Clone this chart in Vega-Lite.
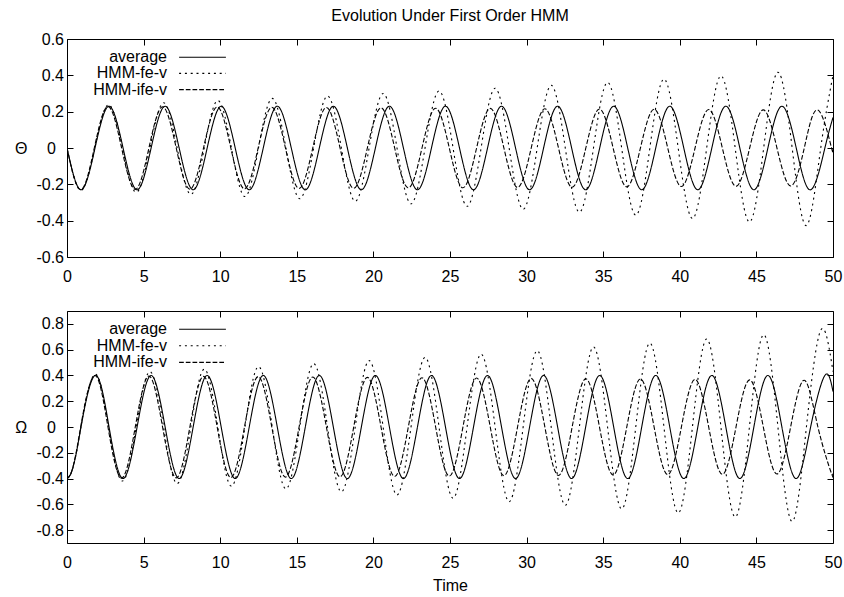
{
  "$schema": "https://vega.github.io/schema/vega-lite/v6.json",
  "background": "white",
  "padding": {"left": 14, "top": 8, "right": 5, "bottom": 2},
  "title": {"text": "Evolution Under First Order HMM", "anchor": "middle", "frame": "group", "offset": 6.3},
  "config": {
    "font": "Liberation Sans",
    "view": {"stroke": "black", "strokeWidth": 1},
    "axis": {"labelFont": "Liberation Sans", "labelFontSize": 16, "labelColor": "black", "titleFont": "Liberation Sans", "titleFontSize": 16, "titleFontWeight": "normal", "titleColor": "black", "tickColor": "black", "tickSize": -6, "tickWidth": 1, "domain": false, "grid": false, "labelFlush": false, "labelOverlap": false},
    "legend": {"labelFont": "Liberation Sans", "labelFontSize": 16, "labelColor": "black"},
    "title": {"font": "Liberation Sans", "fontSize": 16, "fontWeight": "normal", "color": "black"}
  },
  "datasets": {
    "th": [
      {"s":"average","t":0,"v":0},{"s":"average","t":0.915,"v":-0.23},{"s":"average","t":1.83,"v":0},{"s":"average","t":2.745,"v":0.23},
      {"s":"average","t":3.66,"v":0},{"s":"average","t":4.575,"v":-0.23},{"s":"average","t":5.49,"v":0},{"s":"average","t":6.405,"v":0.23},
      {"s":"average","t":7.32,"v":0},{"s":"average","t":8.235,"v":-0.23},{"s":"average","t":9.15,"v":0},{"s":"average","t":10.065,"v":0.23},
      {"s":"average","t":10.98,"v":0},{"s":"average","t":11.895,"v":-0.23},{"s":"average","t":12.81,"v":0},{"s":"average","t":13.725,"v":0.23},
      {"s":"average","t":14.64,"v":0},{"s":"average","t":15.555,"v":-0.23},{"s":"average","t":16.47,"v":0},{"s":"average","t":17.385,"v":0.23},
      {"s":"average","t":18.3,"v":0},{"s":"average","t":19.215,"v":-0.23},{"s":"average","t":20.13,"v":0},{"s":"average","t":21.045,"v":0.23},
      {"s":"average","t":21.96,"v":0},{"s":"average","t":22.875,"v":-0.23},{"s":"average","t":23.79,"v":0},{"s":"average","t":24.705,"v":0.23},
      {"s":"average","t":25.62,"v":0},{"s":"average","t":26.535,"v":-0.23},{"s":"average","t":27.45,"v":0},{"s":"average","t":28.365,"v":0.23},
      {"s":"average","t":29.28,"v":0},{"s":"average","t":30.195,"v":-0.23},{"s":"average","t":31.11,"v":0},{"s":"average","t":32.025,"v":0.23},
      {"s":"average","t":32.94,"v":0},{"s":"average","t":33.855,"v":-0.23},{"s":"average","t":34.77,"v":0},{"s":"average","t":35.685,"v":0.23},
      {"s":"average","t":36.6,"v":0},{"s":"average","t":37.515,"v":-0.23},{"s":"average","t":38.43,"v":0},{"s":"average","t":39.345,"v":0.23},
      {"s":"average","t":40.26,"v":0},{"s":"average","t":41.175,"v":-0.23},{"s":"average","t":42.09,"v":0},{"s":"average","t":43.005,"v":0.23},
      {"s":"average","t":43.92,"v":0},{"s":"average","t":44.835,"v":-0.23},{"s":"average","t":45.75,"v":0},{"s":"average","t":46.665,"v":0.23},
      {"s":"average","t":47.6,"v":0},{"s":"average","t":48.54,"v":-0.23},{"s":"average","t":49.47,"v":0},{"s":"average","t":50,"v":0.168},

      {"s":"HMM-fe-v","t":0,"v":0},{"s":"HMM-fe-v","t":0.905,"v":-0.233},{"s":"HMM-fe-v","t":1.81,"v":0},{"s":"HMM-fe-v","t":2.715,"v":0.238},
      {"s":"HMM-fe-v","t":3.62,"v":0},{"s":"HMM-fe-v","t":4.515,"v":-0.244},{"s":"HMM-fe-v","t":5.41,"v":0},{"s":"HMM-fe-v","t":6.305,"v":0.249},
      {"s":"HMM-fe-v","t":7.19,"v":0},{"s":"HMM-fe-v","t":8.085,"v":-0.255},{"s":"HMM-fe-v","t":8.96,"v":0},{"s":"HMM-fe-v","t":9.845,"v":0.261},
      {"s":"HMM-fe-v","t":10.73,"v":0},{"s":"HMM-fe-v","t":11.615,"v":-0.267},{"s":"HMM-fe-v","t":12.5,"v":0},{"s":"HMM-fe-v","t":13.395,"v":0.273},
      {"s":"HMM-fe-v","t":14.29,"v":0},{"s":"HMM-fe-v","t":15.195,"v":-0.279},{"s":"HMM-fe-v","t":16.1,"v":0},{"s":"HMM-fe-v","t":17.005,"v":0.286},
      {"s":"HMM-fe-v","t":17.91,"v":0},{"s":"HMM-fe-v","t":18.815,"v":-0.293},{"s":"HMM-fe-v","t":19.72,"v":0},{"s":"HMM-fe-v","t":20.635,"v":0.3},
      {"s":"HMM-fe-v","t":21.54,"v":0},{"s":"HMM-fe-v","t":22.455,"v":-0.307},{"s":"HMM-fe-v","t":23.37,"v":0},{"s":"HMM-fe-v","t":24.285,"v":0.314},
      {"s":"HMM-fe-v","t":25.2,"v":0},{"s":"HMM-fe-v","t":26.115,"v":-0.321},{"s":"HMM-fe-v","t":27.03,"v":0},{"s":"HMM-fe-v","t":27.945,"v":0.329},
      {"s":"HMM-fe-v","t":28.86,"v":0},{"s":"HMM-fe-v","t":29.775,"v":-0.337},{"s":"HMM-fe-v","t":30.69,"v":0},{"s":"HMM-fe-v","t":31.605,"v":0.345},
      {"s":"HMM-fe-v","t":32.525,"v":0},{"s":"HMM-fe-v","t":33.445,"v":-0.353},{"s":"HMM-fe-v","t":34.365,"v":0},{"s":"HMM-fe-v","t":35.285,"v":0.361},
      {"s":"HMM-fe-v","t":36.205,"v":0},{"s":"HMM-fe-v","t":37.125,"v":-0.37},{"s":"HMM-fe-v","t":38.045,"v":0},{"s":"HMM-fe-v","t":38.965,"v":0.379},
      {"s":"HMM-fe-v","t":39.895,"v":0},{"s":"HMM-fe-v","t":40.825,"v":-0.388},{"s":"HMM-fe-v","t":41.755,"v":0},{"s":"HMM-fe-v","t":42.685,"v":0.397},
      {"s":"HMM-fe-v","t":43.615,"v":0},{"s":"HMM-fe-v","t":44.545,"v":-0.407},{"s":"HMM-fe-v","t":45.475,"v":0},{"s":"HMM-fe-v","t":46.405,"v":0.417},
      {"s":"HMM-fe-v","t":47.335,"v":0},{"s":"HMM-fe-v","t":48.265,"v":-0.427},{"s":"HMM-fe-v","t":49.2,"v":0},{"s":"HMM-fe-v","t":50,"v":0.4},

      {"s":"HMM-ife-v","t":0,"v":0},{"s":"HMM-ife-v","t":0.891,"v":-0.23},{"s":"HMM-ife-v","t":1.782,"v":0},{"s":"HMM-ife-v","t":2.674,"v":0.229},
      {"s":"HMM-ife-v","t":3.565,"v":0},{"s":"HMM-ife-v","t":4.456,"v":-0.228},{"s":"HMM-ife-v","t":5.347,"v":0},{"s":"HMM-ife-v","t":6.238,"v":0.227},
      {"s":"HMM-ife-v","t":7.13,"v":0},{"s":"HMM-ife-v","t":8.021,"v":-0.227},{"s":"HMM-ife-v","t":8.912,"v":0},{"s":"HMM-ife-v","t":9.803,"v":0.226},
      {"s":"HMM-ife-v","t":10.694,"v":0},{"s":"HMM-ife-v","t":11.586,"v":-0.225},{"s":"HMM-ife-v","t":12.477,"v":0},{"s":"HMM-ife-v","t":13.368,"v":0.224},
      {"s":"HMM-ife-v","t":14.259,"v":0},{"s":"HMM-ife-v","t":15.15,"v":-0.223},{"s":"HMM-ife-v","t":16.042,"v":0},{"s":"HMM-ife-v","t":16.933,"v":0.223},
      {"s":"HMM-ife-v","t":17.824,"v":0},{"s":"HMM-ife-v","t":18.715,"v":-0.222},{"s":"HMM-ife-v","t":19.606,"v":0},{"s":"HMM-ife-v","t":20.498,"v":0.221},
      {"s":"HMM-ife-v","t":21.389,"v":0},{"s":"HMM-ife-v","t":22.28,"v":-0.22},{"s":"HMM-ife-v","t":23.171,"v":0},{"s":"HMM-ife-v","t":24.062,"v":0.219},
      {"s":"HMM-ife-v","t":24.954,"v":0},{"s":"HMM-ife-v","t":25.845,"v":-0.219},{"s":"HMM-ife-v","t":26.736,"v":0},{"s":"HMM-ife-v","t":27.627,"v":0.218},
      {"s":"HMM-ife-v","t":28.518,"v":0},{"s":"HMM-ife-v","t":29.41,"v":-0.217},{"s":"HMM-ife-v","t":30.301,"v":0},{"s":"HMM-ife-v","t":31.192,"v":0.216},
      {"s":"HMM-ife-v","t":32.083,"v":0},{"s":"HMM-ife-v","t":32.974,"v":-0.216},{"s":"HMM-ife-v","t":33.866,"v":0},{"s":"HMM-ife-v","t":34.757,"v":0.215},
      {"s":"HMM-ife-v","t":35.648,"v":0},{"s":"HMM-ife-v","t":36.539,"v":-0.214},{"s":"HMM-ife-v","t":37.43,"v":0},{"s":"HMM-ife-v","t":38.322,"v":0.213},
      {"s":"HMM-ife-v","t":39.213,"v":0},{"s":"HMM-ife-v","t":40.104,"v":-0.212},{"s":"HMM-ife-v","t":40.995,"v":0},{"s":"HMM-ife-v","t":41.886,"v":0.212},
      {"s":"HMM-ife-v","t":42.778,"v":0},{"s":"HMM-ife-v","t":43.669,"v":-0.211},{"s":"HMM-ife-v","t":44.56,"v":0},{"s":"HMM-ife-v","t":45.451,"v":0.21},
      {"s":"HMM-ife-v","t":46.342,"v":0},{"s":"HMM-ife-v","t":47.234,"v":-0.209},{"s":"HMM-ife-v","t":48.125,"v":0},{"s":"HMM-ife-v","t":49.016,"v":0.209},
      {"s":"HMM-ife-v","t":49.907,"v":0},{"s":"HMM-ife-v","t":50,"v":0}
    ],
    "om": [
      {"s":"average","t":0,"v":-0.4},{"s":"average","t":0.3,"v":-0.348},{"s":"average","t":0.6,"v":-0.206},{"s":"average","t":0.915,"v":0},
      {"s":"average","t":1.83,"v":0.4},{"s":"average","t":2.745,"v":0},{"s":"average","t":3.66,"v":-0.4},{"s":"average","t":4.575,"v":0},
      {"s":"average","t":5.49,"v":0.4},{"s":"average","t":6.405,"v":0},{"s":"average","t":7.32,"v":-0.4},{"s":"average","t":8.235,"v":0},
      {"s":"average","t":9.15,"v":0.4},{"s":"average","t":10.065,"v":0},{"s":"average","t":10.98,"v":-0.4},{"s":"average","t":11.895,"v":0},
      {"s":"average","t":12.81,"v":0.4},{"s":"average","t":13.725,"v":0},{"s":"average","t":14.64,"v":-0.4},{"s":"average","t":15.555,"v":0},
      {"s":"average","t":16.47,"v":0.4},{"s":"average","t":17.385,"v":0},{"s":"average","t":18.3,"v":-0.4},{"s":"average","t":19.215,"v":0},
      {"s":"average","t":20.13,"v":0.4},{"s":"average","t":21.045,"v":0},{"s":"average","t":21.96,"v":-0.4},{"s":"average","t":22.875,"v":0},
      {"s":"average","t":23.79,"v":0.4},{"s":"average","t":24.705,"v":0},{"s":"average","t":25.62,"v":-0.4},{"s":"average","t":26.535,"v":0},
      {"s":"average","t":27.45,"v":0.4},{"s":"average","t":28.365,"v":0},{"s":"average","t":29.28,"v":-0.4},{"s":"average","t":30.195,"v":0},
      {"s":"average","t":31.11,"v":0.4},{"s":"average","t":32.025,"v":0},{"s":"average","t":32.94,"v":-0.4},{"s":"average","t":33.855,"v":0},
      {"s":"average","t":34.77,"v":0.4},{"s":"average","t":35.685,"v":0},{"s":"average","t":36.6,"v":-0.4},{"s":"average","t":37.515,"v":0},
      {"s":"average","t":38.43,"v":0.4},{"s":"average","t":39.345,"v":0},{"s":"average","t":40.26,"v":-0.4},{"s":"average","t":41.175,"v":0},
      {"s":"average","t":42.09,"v":0.4},{"s":"average","t":43.005,"v":0},{"s":"average","t":43.92,"v":-0.4},{"s":"average","t":44.835,"v":0},
      {"s":"average","t":45.75,"v":0.4},{"s":"average","t":46.665,"v":0},{"s":"average","t":47.6,"v":-0.4},{"s":"average","t":48.54,"v":0},
      {"s":"average","t":49.47,"v":0.4},{"s":"average","t":50,"v":0.275},

      {"s":"HMM-fe-v","t":0,"v":-0.4},{"s":"HMM-fe-v","t":0.3,"v":-0.348},{"s":"HMM-fe-v","t":0.6,"v":-0.207},{"s":"HMM-fe-v","t":0.905,"v":0},
      {"s":"HMM-fe-v","t":1.81,"v":0.409},{"s":"HMM-fe-v","t":2.715,"v":0},{"s":"HMM-fe-v","t":3.62,"v":-0.419},{"s":"HMM-fe-v","t":4.515,"v":0},
      {"s":"HMM-fe-v","t":5.41,"v":0.429},{"s":"HMM-fe-v","t":6.305,"v":0},{"s":"HMM-fe-v","t":7.19,"v":-0.439},{"s":"HMM-fe-v","t":8.085,"v":0},
      {"s":"HMM-fe-v","t":8.96,"v":0.449},{"s":"HMM-fe-v","t":9.845,"v":0},{"s":"HMM-fe-v","t":10.73,"v":-0.459},{"s":"HMM-fe-v","t":11.615,"v":0},
      {"s":"HMM-fe-v","t":12.5,"v":0.469},{"s":"HMM-fe-v","t":13.395,"v":0},{"s":"HMM-fe-v","t":14.29,"v":-0.48},{"s":"HMM-fe-v","t":15.195,"v":0},
      {"s":"HMM-fe-v","t":16.1,"v":0.492},{"s":"HMM-fe-v","t":17.005,"v":0},{"s":"HMM-fe-v","t":17.91,"v":-0.503},{"s":"HMM-fe-v","t":18.815,"v":0},
      {"s":"HMM-fe-v","t":19.72,"v":0.515},{"s":"HMM-fe-v","t":20.635,"v":0},{"s":"HMM-fe-v","t":21.54,"v":-0.527},{"s":"HMM-fe-v","t":22.455,"v":0},
      {"s":"HMM-fe-v","t":23.37,"v":0.539},{"s":"HMM-fe-v","t":24.285,"v":0},{"s":"HMM-fe-v","t":25.2,"v":-0.552},{"s":"HMM-fe-v","t":26.115,"v":0},
      {"s":"HMM-fe-v","t":27.03,"v":0.565},{"s":"HMM-fe-v","t":27.945,"v":0},{"s":"HMM-fe-v","t":28.86,"v":-0.579},{"s":"HMM-fe-v","t":29.775,"v":0},
      {"s":"HMM-fe-v","t":30.69,"v":0.592},{"s":"HMM-fe-v","t":31.605,"v":0},{"s":"HMM-fe-v","t":32.525,"v":-0.607},{"s":"HMM-fe-v","t":33.445,"v":0},
      {"s":"HMM-fe-v","t":34.365,"v":0.621},{"s":"HMM-fe-v","t":35.285,"v":0},{"s":"HMM-fe-v","t":36.205,"v":-0.636},{"s":"HMM-fe-v","t":37.125,"v":0},
      {"s":"HMM-fe-v","t":38.045,"v":0.651},{"s":"HMM-fe-v","t":38.965,"v":0},{"s":"HMM-fe-v","t":39.895,"v":-0.667},{"s":"HMM-fe-v","t":40.825,"v":0},
      {"s":"HMM-fe-v","t":41.755,"v":0.683},{"s":"HMM-fe-v","t":42.685,"v":0},{"s":"HMM-fe-v","t":43.615,"v":-0.699},{"s":"HMM-fe-v","t":44.545,"v":0},
      {"s":"HMM-fe-v","t":45.475,"v":0.716},{"s":"HMM-fe-v","t":46.405,"v":0},{"s":"HMM-fe-v","t":47.335,"v":-0.733},{"s":"HMM-fe-v","t":48.265,"v":0},
      {"s":"HMM-fe-v","t":49.2,"v":0.751},{"s":"HMM-fe-v","t":50,"v":0.43},

      {"s":"HMM-ife-v","t":0,"v":-0.4},{"s":"HMM-ife-v","t":0.3,"v":-0.345},{"s":"HMM-ife-v","t":0.6,"v":-0.197},{"s":"HMM-ife-v","t":0.891,"v":0},
      {"s":"HMM-ife-v","t":1.782,"v":0.399},{"s":"HMM-ife-v","t":2.674,"v":0},{"s":"HMM-ife-v","t":3.565,"v":-0.397},{"s":"HMM-ife-v","t":4.456,"v":0},
      {"s":"HMM-ife-v","t":5.347,"v":0.396},{"s":"HMM-ife-v","t":6.238,"v":0},{"s":"HMM-ife-v","t":7.13,"v":-0.395},{"s":"HMM-ife-v","t":8.021,"v":0},
      {"s":"HMM-ife-v","t":8.912,"v":0.393},{"s":"HMM-ife-v","t":9.803,"v":0},{"s":"HMM-ife-v","t":10.694,"v":-0.392},{"s":"HMM-ife-v","t":11.586,"v":0},
      {"s":"HMM-ife-v","t":12.477,"v":0.391},{"s":"HMM-ife-v","t":13.368,"v":0},{"s":"HMM-ife-v","t":14.259,"v":-0.389},{"s":"HMM-ife-v","t":15.15,"v":0},
      {"s":"HMM-ife-v","t":16.042,"v":0.388},{"s":"HMM-ife-v","t":16.933,"v":0},{"s":"HMM-ife-v","t":17.824,"v":-0.386},{"s":"HMM-ife-v","t":18.715,"v":0},
      {"s":"HMM-ife-v","t":19.606,"v":0.385},{"s":"HMM-ife-v","t":20.498,"v":0},{"s":"HMM-ife-v","t":21.389,"v":-0.384},{"s":"HMM-ife-v","t":22.28,"v":0},
      {"s":"HMM-ife-v","t":23.171,"v":0.382},{"s":"HMM-ife-v","t":24.062,"v":0},{"s":"HMM-ife-v","t":24.954,"v":-0.381},{"s":"HMM-ife-v","t":25.845,"v":0},
      {"s":"HMM-ife-v","t":26.736,"v":0.38},{"s":"HMM-ife-v","t":27.627,"v":0},{"s":"HMM-ife-v","t":28.518,"v":-0.378},{"s":"HMM-ife-v","t":29.41,"v":0},
      {"s":"HMM-ife-v","t":30.301,"v":0.377},{"s":"HMM-ife-v","t":31.192,"v":0},{"s":"HMM-ife-v","t":32.083,"v":-0.376},{"s":"HMM-ife-v","t":32.974,"v":0},
      {"s":"HMM-ife-v","t":33.866,"v":0.374},{"s":"HMM-ife-v","t":34.757,"v":0},{"s":"HMM-ife-v","t":35.648,"v":-0.373},{"s":"HMM-ife-v","t":36.539,"v":0},
      {"s":"HMM-ife-v","t":37.43,"v":0.372},{"s":"HMM-ife-v","t":38.322,"v":0},{"s":"HMM-ife-v","t":39.213,"v":-0.37},{"s":"HMM-ife-v","t":40.104,"v":0},
      {"s":"HMM-ife-v","t":40.995,"v":0.369},{"s":"HMM-ife-v","t":41.886,"v":0},{"s":"HMM-ife-v","t":42.778,"v":-0.367},{"s":"HMM-ife-v","t":43.669,"v":0},
      {"s":"HMM-ife-v","t":44.56,"v":0.366},{"s":"HMM-ife-v","t":45.451,"v":0},{"s":"HMM-ife-v","t":46.342,"v":-0.365},{"s":"HMM-ife-v","t":47.234,"v":0},
      {"s":"HMM-ife-v","t":48.125,"v":0.363},{"s":"HMM-ife-v","t":49.016,"v":0},{"s":"HMM-ife-v","t":49.907,"v":-0.362},{"s":"HMM-ife-v","t":50,"v":-0.36}
    ]
  },
  "bounds": "flush",
  "spacing": 54,
  "resolve": {"scale": {"x": "independent", "y": "independent", "strokeDash": "independent"}, "legend": {"strokeDash": "independent"}},
  "vconcat": [
    {
      "width": 766,
      "height": 218,
      "data": {"name": "th"},
      "layer": [
        {
          "mark": {"type": "line", "interpolate": "natural", "color": "black", "strokeWidth": 1.1, "clip": true},
          "encoding": {
            "x": {"field": "t", "type": "quantitative", "scale": {"domain": [0, 50], "nice": false, "zero": false},
                  "axis": {"orient": "bottom", "values": [0, 5, 10, 15, 20, 25, 30, 35, 40, 45, 50], "labelPadding": 17.7, "title": null}},
            "y": {"field": "v", "type": "quantitative", "scale": {"domain": [-0.6, 0.6], "nice": false, "zero": false},
                  "axis": {"orient": "left", "values": [-0.6, -0.4, -0.2, 0, 0.2, 0.4, 0.6],
                           "labelExpr": "replace(format(datum.value, '.1~f'), '\u2212', '-')",
                           "labelPadding": {"condition": {"test": "datum.value === 0", "value": 17.7}, "value": 9.5},
                           "title": "Θ", "titleAngle": 0, "titleX": -46.2, "titleY": 109.2, "titleAlign": "center", "titleBaseline": "middle"}},
            "strokeDash": {"field": "s", "type": "nominal",
                           "scale": {"domain": ["average", "HMM-fe-v", "HMM-ife-v"], "range": [[1, 0], [2, 3.8], [4.7, 2]]},
                           "legend": {"orient": "none", "legendX": 127.5, "legendY": 10.2, "title": null, "symbolType": "M-3.9,0H3.9", "symbolSize": 144,
                                      "symbolStrokeColor": "black", "symbolStrokeWidth": 1.1, "labelFontSize": 16, "labelAlign": "right", "labelOffset": -43.5,
                                      "rowPadding": 0.2, "padding": 0}}
          }
        },
        {
          "mark": {"type": "line", "interpolate": "natural", "strokeOpacity": 0},
          "encoding": {
            "x": {"field": "t", "type": "quantitative", "axis": {"orient": "top", "values": [0, 5, 10, 15, 20, 25, 30, 35, 40, 45, 50], "labels": false, "title": null}},
            "y": {"field": "v", "type": "quantitative", "axis": {"orient": "right", "values": [-0.6, -0.4, -0.2, 0, 0.2, 0.4, 0.6], "labels": false, "title": null}},
            "detail": {"field": "s"}
          }
        }
      ],
      "resolve": {"axis": {"x": "independent", "y": "independent"}}
    },
    {
      "width": 766,
      "height": 232,
      "data": {"name": "om"},
      "layer": [
        {
          "mark": {"type": "line", "interpolate": "natural", "color": "black", "strokeWidth": 1.1, "clip": true},
          "encoding": {
            "x": {"field": "t", "type": "quantitative", "scale": {"domain": [0, 50], "nice": false, "zero": false},
                  "axis": {"orient": "bottom", "values": [0, 5, 10, 15, 20, 25, 30, 35, 40, 45, 50], "labelPadding": 17.7,
                           "title": "Time", "titleY": 47.7, "titleBaseline": "alphabetic", "titleAlign": "center"}},
            "y": {"field": "v", "type": "quantitative", "scale": {"domain": [-0.9, 0.9], "nice": false, "zero": false},
                  "axis": {"orient": "left", "values": [-0.8, -0.6, -0.4, -0.2, 0, 0.2, 0.4, 0.6, 0.8],
                           "labelExpr": "replace(format(datum.value, '.1~f'), '\u2212', '-')",
                           "labelPadding": {"condition": {"test": "datum.value === 0", "value": 17.7}, "value": 9.5},
                           "title": "Ω", "titleAngle": 0, "titleX": -46.2, "titleY": 116, "titleAlign": "center", "titleBaseline": "middle"}},
            "strokeDash": {"field": "s", "type": "nominal",
                           "scale": {"domain": ["average", "HMM-fe-v", "HMM-ife-v"], "range": [[1, 0], [2, 3.8], [4.7, 2]]},
                           "legend": {"orient": "none", "legendX": 127.5, "legendY": 10.2, "title": null, "symbolType": "M-3.9,0H3.9", "symbolSize": 144,
                                      "symbolStrokeColor": "black", "symbolStrokeWidth": 1.1, "labelFontSize": 16, "labelAlign": "right", "labelOffset": -43.5,
                                      "rowPadding": 0.6, "padding": 0}}
          }
        },
        {
          "mark": {"type": "line", "interpolate": "natural", "strokeOpacity": 0},
          "encoding": {
            "x": {"field": "t", "type": "quantitative", "axis": {"orient": "top", "values": [0, 5, 10, 15, 20, 25, 30, 35, 40, 45, 50], "labels": false, "title": null}},
            "y": {"field": "v", "type": "quantitative", "axis": {"orient": "right", "values": [-0.8, -0.6, -0.4, -0.2, 0, 0.2, 0.4, 0.6, 0.8], "labels": false, "title": null}},
            "detail": {"field": "s"}
          }
        }
      ],
      "resolve": {"axis": {"x": "independent", "y": "independent"}}
    }
  ]
}
